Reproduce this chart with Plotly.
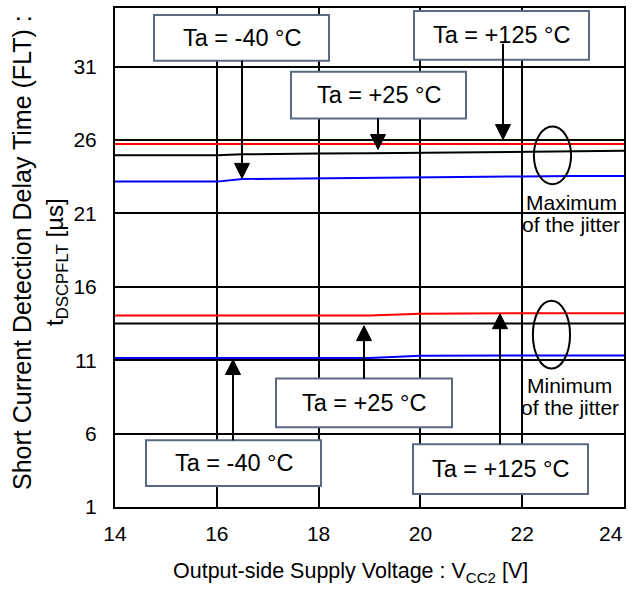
import plotly.graph_objects as go

# ---------------- data ----------------
vcc = [14, 15, 16, 16.5, 17, 18, 19, 20, 21, 22, 23, 24]

# Maximum of the jitter
max_m40 = [23.17, 23.17, 23.17, 23.35, 23.37, 23.40, 23.42, 23.48, 23.50, 23.52, 23.55, 23.56]
max_p25 = [24.96, 24.96, 24.96, 25.03, 25.06, 25.08, 25.10, 25.13, 25.17, 25.20, 25.24, 25.27]
max_p125 = [25.73, 25.73, 25.73, 25.73, 25.73, 25.73, 25.73, 25.74, 25.74, 25.74, 25.74, 25.74]

# Minimum of the jitter
min_m40 = [11.16, 11.16, 11.16, 11.16, 11.16, 11.16, 11.16, 11.30, 11.33, 11.33, 11.33, 11.33]
min_p25 = [13.50, 13.50, 13.50, 13.50, 13.50, 13.50, 13.50, 13.50, 13.50, 13.50, 13.50, 13.50]
min_p125 = [14.05, 14.05, 14.05, 14.05, 14.05, 14.05, 14.05, 14.17, 14.20, 14.20, 14.20, 14.20]

x_ticks = [14, 16, 18, 20, 22]       # "24" is drawn separately, pulled inside the page
x_last_tick = "24"
y_ticks = [1, 6, 11, 16, 21, 26, 31]

FONT = "Liberation Sans, Arial, sans-serif"
FS_TICK = 21
FS_BOX = 23.5
FS_LAB = 21
FS_XT = 21.5
FS_YT = 25
FS_YT2 = 24

# ---------------- layout geometry ----------------
W, H = 635, 610
L, R, T, B = 115, 624, 6, 507   # plot area in pixels


def px(xp):
    return (xp - L) / (R - L)


def py(yp):
    return (B - yp) / (B - T)


fig = go.Figure()

series = [
    (max_m40, "#0000FF"), (max_p25, "#000000"), (max_p125, "#FF0000"),
    (min_m40, "#0000FF"), (min_p25, "#000000"), (min_p125, "#FF0000"),
]
for ys, col in series:
    fig.add_trace(go.Scatter(x=vcc, y=ys, mode="lines",
                             line=dict(color=col, width=2), hoverinfo="skip"))

annotations = []
shapes = []
box_color = "#5B6A84"
boxes = [
    ("Ta = -40 °C", 154, 13, 329, 59),
    ("Ta = +25 °C", 291, 70, 466, 117),
    ("Ta = +125 °C", 414, 9, 589, 58),
    ("Ta = -40 °C", 146, 440, 321, 486),
    ("Ta = +25 °C", 276, 378, 452, 427),
    ("Ta = +125 °C", 413, 444, 588, 494),
]
for txt, x0, y0, x1, y1 in boxes:
    shapes.append(dict(type="rect", xref="paper", yref="paper",
                       x0=px(x0), x1=px(x1), y0=py(y1), y1=py(y0),
                       fillcolor="white", line=dict(color=box_color, width=2),
                       layer="above"))
    annotations.append(dict(
        text=txt, xref="paper", yref="paper", x=px((x0 + x1) / 2), y=py((y0 + y1) / 2),
        xanchor="center", yanchor="middle", showarrow=False,
        font=dict(family=FONT, size=FS_BOX, color="black")))

# arrows (x, tip y, tail y) in pixels
arrows = [
    (242, 177, 59), (378, 148, 117), (503, 138, 42),
    (233, 359, 440), (364, 325, 378), (500, 313, 444),
]
HEAD = 15
for xa, ytip, ytail in arrows:
    d = 1 if ytail > ytip else -1     # +1: arrow points up
    ybase = ytip + d * HEAD
    shapes.append(dict(type="line", xref="paper", yref="paper",
                       x0=px(xa), x1=px(xa), y0=py(ytail), y1=py(ybase),
                       line=dict(color="black", width=2), layer="above"))
    path = "M {:.5f} {:.5f} L {:.5f} {:.5f} L {:.5f} {:.5f} Z".format(
        px(xa), py(ytip), px(xa - 7.5), py(ybase), px(xa + 7.5), py(ybase))
    shapes.append(dict(type="path", xref="paper", yref="paper", path=path,
                       fillcolor="black", line=dict(color="black", width=1),
                       layer="above"))

labels = [
    ("Maximum", 571, 201), ("of the jitter", 571, 223),
    ("Minimum", 569, 385), ("of the jitter", 570, 407),
]
for txt, cx, cy in labels:
    annotations.append(dict(
        text=txt, xref="paper", yref="paper", x=px(cx), y=py(cy),
        xanchor="center", yanchor="middle", showarrow=False,
        font=dict(family=FONT, size=FS_LAB, color="black")))

# last x tick label, pulled inside the page
annotations.append(dict(
    text=x_last_tick, xref="paper", yref="paper", x=px(611), y=py(534),
    xanchor="center", yanchor="middle", showarrow=False,
    font=dict(family=FONT, size=FS_TICK, color="black")))

# axis titles
annotations.append(dict(
    text="Short Current Detection Delay Time (FLT) :", xref="paper", yref="paper",
    x=px(22), y=py(252), xanchor="center", yanchor="middle", textangle=-90,
    showarrow=False, font=dict(family=FONT, size=FS_YT, color="black")))
annotations.append(dict(
    text="t<sub>DSCPFLT</sub> [µs]", xref="paper", yref="paper",
    x=px(57), y=py(261), xanchor="center", yanchor="middle", textangle=-90,
    showarrow=False, font=dict(family=FONT, size=FS_YT2, color="black")))
annotations.append(dict(
    text="Output-side Supply Voltage : V<sub>CC2</sub> [V]", xref="paper", yref="paper",
    x=px(350), y=py(573), xanchor="center", yanchor="middle",
    showarrow=False, font=dict(family=FONT, size=FS_XT, color="black")))

shapes += [
    dict(type="circle", xref="x", yref="y", x0=22.23, x1=22.96, y0=22.99, y1=26.92,
         line=dict(color="black", width=2)),
    dict(type="circle", xref="x", yref="y", x0=22.21, x1=22.94, y0=10.43, y1=15.05,
         line=dict(color="black", width=2)),
]

fig.update_layout(
    width=W, height=H,
    margin=dict(l=L, r=W - R, t=T, b=H - B),
    paper_bgcolor="white", plot_bgcolor="white",
    showlegend=False,
    annotations=annotations, shapes=shapes,
    font=dict(family=FONT, size=FS_TICK, color="black"),
)
fig.update_xaxes(range=[14, 24], tickvals=x_ticks, ticktext=[str(v) for v in x_ticks],
                 showgrid=True, gridcolor="black", gridwidth=1.5,
                 showline=True, linecolor="black", linewidth=2, mirror=True,
                 ticks="", ticklabelstandoff=7, zeroline=False,
                 tickfont=dict(family=FONT, size=FS_TICK, color="black"))
fig.update_yaxes(range=[1, 35], tickvals=y_ticks, ticktext=[str(v) for v in y_ticks],
                 showgrid=True, gridcolor="black", gridwidth=1.5,
                 showline=True, linecolor="black", linewidth=2, mirror=True,
                 ticks="", ticklabelstandoff=12, zeroline=False,
                 tickfont=dict(family=FONT, size=FS_TICK, color="black"))

fig.write_html("out.html", config={"displayModeBar": False},
               post_script="document.body.style.margin='0px';document.body.style.padding='0px';")
